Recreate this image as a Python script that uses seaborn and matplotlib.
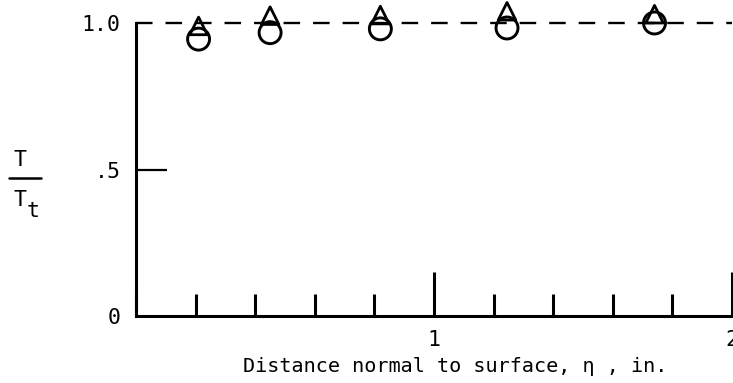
import numpy as np
import pandas as pd
import matplotlib
matplotlib.use('Agg')
import matplotlib.pyplot as plt
from matplotlib.ticker import MultipleLocator
from matplotlib.lines import Line2D
import seaborn as sns

# values
eta_circle = [0.21, 0.45, 0.82, 1.245, 1.74]
ratio_circle = [0.945, 0.967, 0.98, 0.983, 1.0]
eta_triangle = [0.21, 0.45, 0.82, 1.245, 1.74]
ratio_triangle = [0.99, 1.025, 1.027, 1.04, 1.03]
ytick_vals = [0, 0.5, 1.0]
ytick_labels = ['0', '.5', '1.0']
xtick_vals = [1, 2]
xtick_labels = ['1', '2']

sns.set_style('ticks')
plt.rcParams['font.family'] = ['DejaVu Sans Mono']

W, H = 733, 383
fig = plt.figure(figsize=(W / 100, H / 100), dpi=100)
ax = fig.add_axes([136 / W, 1 - 316 / H, (732 - 136) / W, 293 / H])

circ = pd.DataFrame({'eta': eta_circle, 'ratio': ratio_circle})
tri = pd.DataFrame({'eta': eta_triangle, 'ratio': ratio_triangle})

# reference line at T/Tt = 1
ax.plot([0, 2], [1.0, 1.0], color='black', lw=1.7, dashes=(7, 5.5), clip_on=False, zorder=1)

sns.scatterplot(data=circ, x='eta', y='ratio', marker='o', s=250, color='black', ax=ax, clip_on=False, zorder=3)
coll = ax.collections[-1]
coll.set_facecolor('none')
coll.set_edgecolor('black')
coll.set_linewidth(2.1)

sns.scatterplot(data=tri, x='eta', y='ratio', marker='^', s=160, color='black', ax=ax, clip_on=False, zorder=4)
coll = ax.collections[-1]
coll.set_facecolor('none')
coll.set_edgecolor('black')
coll.set_linewidth(2.0)

ax.set_xlim(0, 2)
ax.set_ylim(0, 1)
ax.set_xlabel('')
ax.set_ylabel('')

for s in ['top', 'right']:
    ax.spines[s].set_visible(False)
for s in ['left', 'bottom']:
    ax.spines[s].set_linewidth(2.2)
    ax.spines[s].set_color('black')

ax.set_yticks(ytick_vals)
ax.set_yticklabels(ytick_labels)
ax.set_xticks(xtick_vals)
ax.set_xticklabels(xtick_labels)
ax.xaxis.set_minor_locator(MultipleLocator(0.2))

ax.tick_params(axis='y', which='major', direction='in', length=22, width=1.6, pad=11, labelsize=15.5, colors='black')
ax.tick_params(axis='x', which='major', direction='in', length=32, width=2.2, pad=10, labelsize=15.5, colors='black')
ax.tick_params(axis='x', which='minor', direction='in', length=16, width=2.2, colors='black')
yt = ax.yaxis.get_major_ticks()
yt[0].tick1line.set_visible(False)
yt[2].tick1line.set_visible(False)

ax.text(455 / W, 1 - 367 / H, 'Distance normal to surface, η , in.', transform=fig.transFigure,
        ha='center', va='center', fontsize=14.5, color='black')

# y label as a fraction T / T_t
fig.text(20 / W, 1 - 160 / H, 'T', ha='center', va='center', fontsize=15.5, color='black')
fig.add_artist(Line2D([9 / W, 41 / W], [1 - 178 / H, 1 - 178 / H], color='black', lw=1.8,
                      transform=fig.transFigure))
fig.text(20 / W, 1 - 200 / H, 'T', ha='center', va='center', fontsize=15.5, color='black')
fig.text(33 / W, 1 - 211 / H, 't', ha='center', va='center', fontsize=15.5, color='black')

fig.savefig('out.png', dpi=100)
